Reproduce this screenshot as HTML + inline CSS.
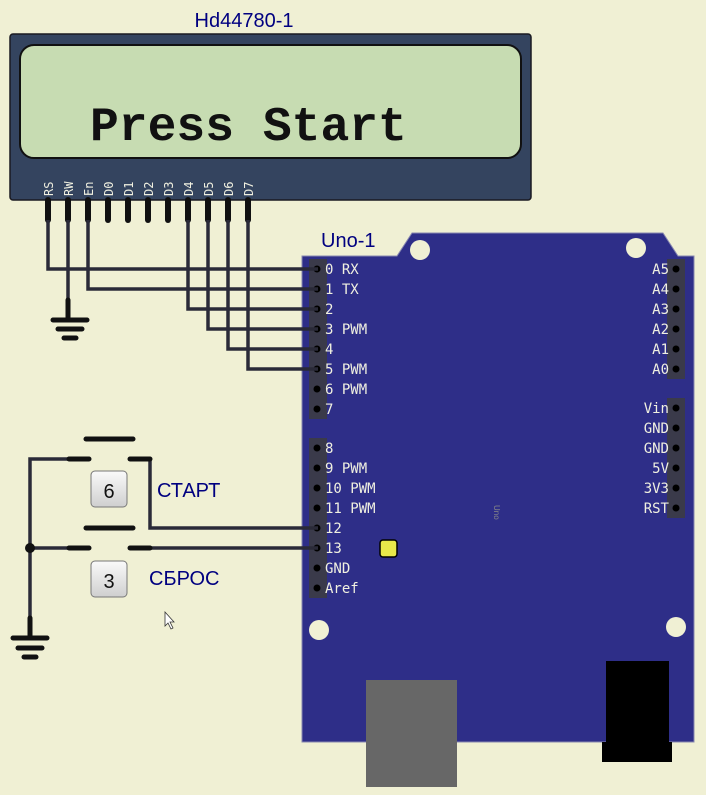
<!DOCTYPE html>
<html><head><meta charset="utf-8"><style>html,body{margin:0;padding:0;background:#f0f0d4;}svg{display:block}</style></head>
<body>
<svg width="706" height="795" viewBox="0 0 706 795" xmlns="http://www.w3.org/2000/svg" font-family="Liberation Sans, sans-serif">
<rect width="706" height="795" fill="#f0f0d4"/>
<text x="244" y="27" font-size="20" fill="#000080" text-anchor="middle">Hd44780-1</text>
<rect x="10" y="34" width="521" height="166" rx="3" fill="#34445f" stroke="#1a1a22" stroke-width="1.5"/>
<rect x="20" y="45" width="501" height="113" rx="14" fill="#c7dcb2" stroke="#111" stroke-width="2"/>
<text x="90" y="140" font-family="Liberation Mono, monospace" font-size="48" font-weight="bold" fill="#111">Press Start</text>
<g font-family="DejaVu Sans Mono, monospace" font-size="12" fill="#f0f0e0">
<text transform="translate(53,196) rotate(-90)">RS</text>
<text transform="translate(73,196) rotate(-90)">RW</text>
<text transform="translate(93,196) rotate(-90)">En</text>
<text transform="translate(113,196) rotate(-90)">D0</text>
<text transform="translate(133,196) rotate(-90)">D1</text>
<text transform="translate(153,196) rotate(-90)">D2</text>
<text transform="translate(173,196) rotate(-90)">D3</text>
<text transform="translate(193,196) rotate(-90)">D4</text>
<text transform="translate(213,196) rotate(-90)">D5</text>
<text transform="translate(233,196) rotate(-90)">D6</text>
<text transform="translate(253,196) rotate(-90)">D7</text>
</g>
<g stroke="#111" stroke-width="6" stroke-linecap="round">
<line x1="48" y1="200" x2="48" y2="220"/><line x1="68" y1="200" x2="68" y2="220"/><line x1="88" y1="200" x2="88" y2="220"/><line x1="108" y1="200" x2="108" y2="220"/><line x1="128" y1="200" x2="128" y2="220"/><line x1="148" y1="200" x2="148" y2="220"/><line x1="168" y1="200" x2="168" y2="220"/><line x1="188" y1="200" x2="188" y2="220"/><line x1="208" y1="200" x2="208" y2="220"/><line x1="228" y1="200" x2="228" y2="220"/><line x1="248" y1="200" x2="248" y2="220"/>
</g>
<text x="321" y="247" font-size="20" fill="#000080">Uno-1</text>
<path d="M302 256 L397 256 L412 233 L663 233 L678 256 L694 256 L694 742 L302 742 Z" fill="#2e2e88" stroke="#8888b0" stroke-width="1"/>
<circle cx="420" cy="250" r="10" fill="#f0f0d4"/><circle cx="636" cy="248" r="10" fill="#f0f0d4"/>
<circle cx="319" cy="630" r="10" fill="#f0f0d4"/><circle cx="676" cy="627" r="10" fill="#f0f0d4"/>
<rect x="366" y="680" width="91" height="107" fill="#676767"/>
<rect x="606" y="661" width="63" height="82" fill="#000"/><rect x="602" y="742" width="70" height="20" fill="#000"/>
<rect x="380" y="540" width="17" height="17" rx="3" fill="#e8e84a" stroke="#000" stroke-width="1.5"/>
<text transform="translate(494,505) rotate(90)" font-size="8" fill="#888">Uno</text>
<g fill="#3a3a4a"><rect x="309" y="259" width="18" height="160"/><rect x="309" y="438" width="18" height="160"/><rect x="667" y="259" width="18" height="120"/><rect x="667" y="398" width="18" height="120"/></g>
<g fill="#000">
<circle cx="317" cy="269" r="3.5"/><circle cx="317" cy="289" r="3.5"/><circle cx="317" cy="309" r="3.5"/><circle cx="317" cy="329" r="3.5"/><circle cx="317" cy="349" r="3.5"/><circle cx="317" cy="369" r="3.5"/><circle cx="317" cy="389" r="3.5"/><circle cx="317" cy="409" r="3.5"/>
<circle cx="317" cy="448" r="3.5"/><circle cx="317" cy="468" r="3.5"/><circle cx="317" cy="488" r="3.5"/><circle cx="317" cy="508" r="3.5"/><circle cx="317" cy="528" r="3.5"/><circle cx="317" cy="548" r="3.5"/><circle cx="317" cy="568" r="3.5"/><circle cx="317" cy="588" r="3.5"/>
<circle cx="676" cy="269" r="3.5"/><circle cx="676" cy="289" r="3.5"/><circle cx="676" cy="309" r="3.5"/><circle cx="676" cy="329" r="3.5"/><circle cx="676" cy="349" r="3.5"/><circle cx="676" cy="369" r="3.5"/>
<circle cx="676" cy="408" r="3.5"/><circle cx="676" cy="428" r="3.5"/><circle cx="676" cy="448" r="3.5"/><circle cx="676" cy="468" r="3.5"/><circle cx="676" cy="488" r="3.5"/><circle cx="676" cy="508" r="3.5"/>
</g>
<g font-family="DejaVu Sans Mono, monospace" font-size="14" fill="#f0f0e0">
<text x="325" y="274">0 RX</text><text x="325" y="294">1 TX</text><text x="325" y="314">2</text><text x="325" y="334">3 PWM</text><text x="325" y="354">4</text><text x="325" y="374">5 PWM</text><text x="325" y="394">6 PWM</text><text x="325" y="414">7</text>
<text x="325" y="453">8</text><text x="325" y="473">9 PWM</text><text x="325" y="493">10 PWM</text><text x="325" y="513">11 PWM</text><text x="325" y="533">12</text><text x="325" y="553">13</text><text x="325" y="573">GND</text><text x="325" y="593">Aref</text>
<g text-anchor="end"><text x="669" y="274">A5</text><text x="669" y="294">A4</text><text x="669" y="314">A3</text><text x="669" y="334">A2</text><text x="669" y="354">A1</text><text x="669" y="374">A0</text>
<text x="669" y="413">Vin</text><text x="669" y="433">GND</text><text x="669" y="453">GND</text><text x="669" y="473">5V</text><text x="669" y="493">3V3</text><text x="669" y="513">RST</text></g>
</g>
<g stroke="#2a2a38" stroke-width="3.5" fill="none">
<polyline points="48,220 48,269 318,269"/>
<polyline points="68,220 68,300"/>
<polyline points="88,220 88,289 318,289"/>
<polyline points="188,220 188,309 318,309"/>
<polyline points="208,220 208,329 318,329"/>
<polyline points="228,220 228,349 318,349"/>
<polyline points="248,220 248,369 318,369"/>
<polyline points="68,459 30,459 30,620"/>
<polyline points="150,459 150,528 318,528"/>
<polyline points="30,548 68,548"/>
<polyline points="150,548 318,548"/>
</g>
<circle cx="30" cy="548" r="5" fill="#111"/>
<g stroke="#111" stroke-width="5" stroke-linecap="round">
<line x1="68" y1="300" x2="68" y2="318"/><line x1="53" y1="320" x2="87" y2="320"/><line x1="58" y1="329" x2="82" y2="329"/><line x1="64" y1="338" x2="76" y2="338"/>
<line x1="30" y1="618" x2="30" y2="638"/><line x1="13" y1="638" x2="47" y2="638"/><line x1="18" y1="648" x2="42" y2="648"/><line x1="24" y1="657" x2="36" y2="657"/>
<line x1="86" y1="439" x2="133" y2="439"/><line x1="69" y1="459" x2="89" y2="459"/><line x1="130" y1="459" x2="150" y2="459"/>
<line x1="86" y1="528" x2="133" y2="528"/><line x1="69" y1="548" x2="89" y2="548"/><line x1="130" y1="548" x2="150" y2="548"/>
</g>
<defs><linearGradient id="k" x1="0" y1="0" x2="0" y2="1"><stop offset="0" stop-color="#fafafa"/><stop offset="1" stop-color="#cfcfcf"/></linearGradient></defs>
<rect x="91" y="471" width="36" height="36" rx="4" fill="url(#k)" stroke="#777" stroke-width="1"/>
<rect x="91" y="561" width="36" height="36" rx="4" fill="url(#k)" stroke="#777" stroke-width="1"/>
<text x="109" y="498" font-size="20" text-anchor="middle" fill="#111">6</text>
<text x="109" y="588" font-size="20" text-anchor="middle" fill="#111">3</text>
<text x="157" y="497" font-size="20" fill="#000080">СТАРТ</text>
<text x="149" y="585" font-size="20" fill="#000080">СБРОС</text>
<path d="M165 612 L165 626 L168 623 L171 629 L173 628 L170 622 L174 622 Z" fill="#fff" stroke="#333" stroke-width="0.8"/>
</svg>
</body></html>
